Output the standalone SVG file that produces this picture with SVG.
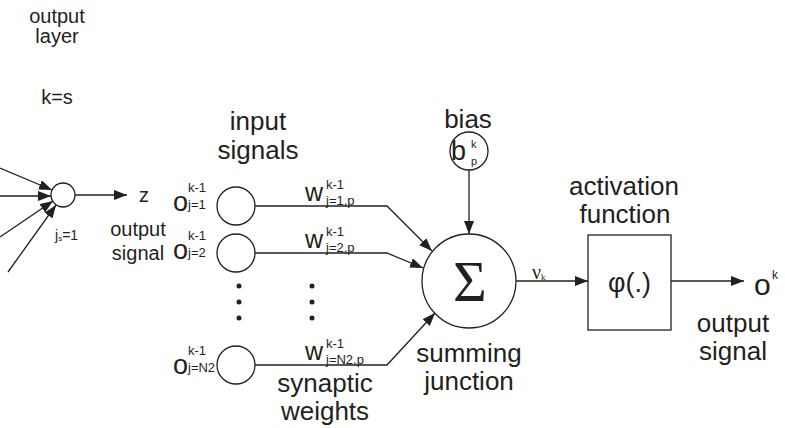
<svg xmlns="http://www.w3.org/2000/svg" width="785" height="428" viewBox="0 0 785 428">
<defs>
<marker id="ah" markerUnits="userSpaceOnUse" markerWidth="13" markerHeight="11" refX="13" refY="5" orient="auto">
<path d="M0,0 L13,5 L0,10 z" fill="#231f20"/>
</marker>
<style>
.t{font-family:"Liberation Sans",Arial,sans-serif;fill:#231f20}
.lbl{font-size:26px}
.sm{font-size:20px}
.sup{font-size:13px}
.shape{fill:#fff;stroke:#231f20;stroke-width:1.3}
.ln{fill:none;stroke:#231f20;stroke-width:1.3}
.dot{fill:#231f20}
</style>
</defs>
<rect width="785" height="428" fill="#fff"/>

<g id="output-layer-label">
<text class="t sm" x="57" y="23" text-anchor="middle">output</text>
<text class="t sm" x="57" y="43" text-anchor="middle">layer</text>
<text class="t sm" x="57" y="104" text-anchor="middle">k=s</text>
</g>

<g id="output-neuron">
<circle class="shape" cx="63" cy="195" r="12"/>
<text class="t" x="55" y="240" font-size="14">j<tspan font-size="8" dy="1">s</tspan><tspan dy="-1">=1</tspan></text>
</g>
<g id="z-label">
<text class="t sm" x="139" y="202">z</text>
<text class="t sm" x="138" y="236" text-anchor="middle">output</text>
<text class="t sm" x="138" y="260" text-anchor="middle">signal</text>
</g>

<g id="input-labels">
<text class="t" x="173" y="211" font-size="27">o</text>
<text class="t sup" x="188" y="192">k-1</text>
<text class="t sup" x="188" y="209">j=1</text>
<text class="t" x="173" y="259" font-size="27">o</text>
<text class="t sup" x="188" y="240">k-1</text>
<text class="t sup" x="188" y="257">j=2</text>
<text class="t" x="173" y="374" font-size="27">o</text>
<text class="t sup" x="188" y="355">k-1</text>
<text class="t sup" x="188" y="372">j=N2</text>
</g>

<g id="input-signals-label">
<text class="t lbl" x="258" y="130" text-anchor="middle">input</text>
<text class="t lbl" x="258" y="159" text-anchor="middle">signals</text>
</g>

<g id="input1"><circle class="shape" cx="236" cy="206" r="19"/></g>
<g id="input2"><circle class="shape" cx="236" cy="253" r="19"/></g>
<g id="input3"><circle class="shape" cx="236" cy="365" r="19"/></g>

<g id="dots">
<circle class="dot" cx="239" cy="286" r="2.5"/>
<circle class="dot" cx="239" cy="302" r="2.5"/>
<circle class="dot" cx="239" cy="318" r="2.5"/>
<circle class="dot" cx="312" cy="286" r="2.5"/>
<circle class="dot" cx="312" cy="302" r="2.5"/>
<circle class="dot" cx="312" cy="318" r="2.5"/>
</g>

<g id="weights">
<text class="t" x="305" y="201" font-size="25">w</text>
<text class="t sup" x="326" y="189">k-1</text>
<text class="t sup" x="326" y="205">j=1,p</text>
<text class="t" x="305" y="248" font-size="25">w</text>
<text class="t sup" x="326" y="236">k-1</text>
<text class="t sup" x="326" y="252">j=2,p</text>
<text class="t" x="305" y="360" font-size="25">w</text>
<text class="t sup" x="326" y="348">k-1</text>
<text class="t sup" x="326" y="364">j=N2,p</text>
</g>

<g id="synaptic-weights-label">
<text class="t lbl" x="325" y="392" text-anchor="middle">synaptic</text>
<text class="t lbl" x="325" y="420" text-anchor="middle">weights</text>
</g>

<g id="bias">
<text class="t lbl" x="468" y="128" text-anchor="middle">bias</text>
<circle class="shape" cx="469" cy="151" r="19"/>
<text class="t" x="451" y="160" font-size="27">b</text>
<text class="t" x="471" y="148" font-size="11">k</text>
<text class="t" x="471" y="165" font-size="11">p</text>
</g>

<g id="summing-junction">
<circle class="shape" cx="469" cy="281" r="47"/>
<text x="470" y="301" font-family="'Liberation Serif','Times New Roman',serif" font-size="58" text-anchor="middle" fill="#231f20">Σ</text>
<text class="t lbl" x="469" y="362" text-anchor="middle">summing</text>
<text class="t lbl" x="469" y="390" text-anchor="middle">junction</text>
</g>

<g id="v-label">
<text x="532" y="279" font-family="'Liberation Serif','Times New Roman',serif" font-size="20" fill="#231f20">ν<tspan font-size="9" dy="1">k</tspan></text>
</g>

<g id="activation-function">
<text class="t lbl" x="624" y="195" text-anchor="middle">activation</text>
<text class="t lbl" x="625" y="223" text-anchor="middle">function</text>
<rect class="shape" x="588" y="235" width="83" height="95"/>
<text class="t" x="629.5" y="292" font-size="27" text-anchor="middle">φ(.)</text>
</g>

<g id="output">
<text class="t" x="754" y="295" font-size="30">o</text>
<text class="t" x="772" y="279" font-size="12">k</text>
<text class="t lbl" x="733" y="332" text-anchor="middle">output</text>
<text class="t lbl" x="733" y="360" text-anchor="middle">signal</text>
</g>

<g id="connectors">
<line class="ln" x1="0" y1="168" x2="52" y2="190" marker-end="url(#ah)"/>
<line class="ln" x1="0" y1="196" x2="51" y2="196" marker-end="url(#ah)"/>
<line class="ln" x1="0" y1="237" x2="53" y2="201" marker-end="url(#ah)"/>
<line class="ln" x1="8" y1="272" x2="56" y2="205" marker-end="url(#ah)"/>
<line class="ln" x1="75" y1="195" x2="127" y2="195" marker-end="url(#ah)"/>
<polyline class="ln" points="255,206 387,206 432,251" marker-end="url(#ah)"/>
<polyline class="ln" points="255,253 387,253 423,268" marker-end="url(#ah)"/>
<polyline class="ln" points="255,365 387,365 435,313" marker-end="url(#ah)"/>
<line class="ln" x1="469" y1="170" x2="469" y2="234" marker-end="url(#ah)"/>
<line class="ln" x1="516" y1="281" x2="588" y2="281" marker-end="url(#ah)"/>
<line class="ln" x1="671" y1="281" x2="744" y2="281" marker-end="url(#ah)"/>
</g>
</svg>
